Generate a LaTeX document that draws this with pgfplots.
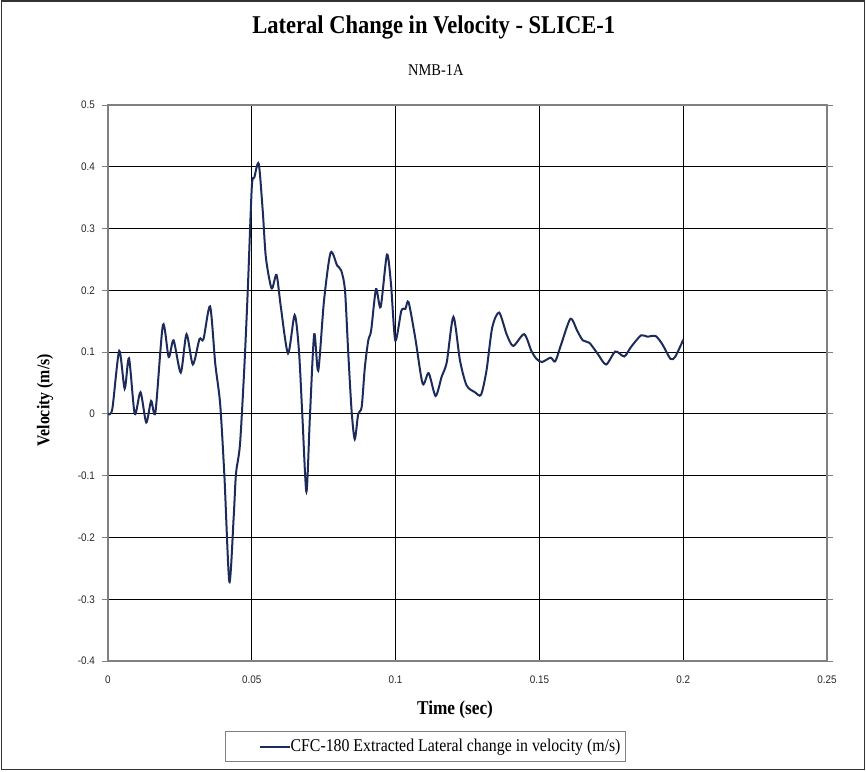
\documentclass[border=0pt]{standalone}
\usepackage{pgfplots}
\pgfplotsset{compat=1.18}
\usepackage{fontspec}
\setmainfont{Liberation Serif}[FakeStretch=0.88]
\newfontfamily\tickfont{Liberation Sans}[FakeStretch=0.9]
\definecolor{navy}{HTML}{1C2B5A}
\definecolor{axgray}{HTML}{808080}
\begin{document}
\begin{tikzpicture}
\useasboundingbox (-54pt,-55pt) rectangle (379pt,330.5pt);
\draw[line width=0.6pt, black!80] (-53.3pt,-54.3pt) rectangle (378.3pt,330pt);
\begin{axis}[
  at={(0,0)}, anchor=south west,
  scale only axis, width=359.5pt, height=278pt,
  xmin=0, xmax=0.25, ymin=-0.4, ymax=0.5,
  xtick={0,0.05,0.1,0.15,0.2,0.25},
  xticklabels={0,0.05,0.1,0.15,0.2,0.25},
  ytick={-0.4,-0.3,-0.2,-0.1,0,0.1,0.2,0.3,0.4,0.5},
  yticklabels={-0.4,-0.3,-0.2,-0.1,0,0.1,0.2,0.3,0.4,0.5},
  scaled ticks=false,
  ticklabel style={font=\tickfont\fontsize{5.5}{6}\selectfont, text=black!85},
  xticklabel style={yshift=-1pt},
  grid=major,
  major grid style={black, line width=0.45pt},
  axis line style={axgray, line width=0.8pt},
  tick align=outside,
  major tick length=3pt,
  tick style={axgray, line width=0.5pt},
  xtick style={draw=none},
  legend style={at={(0.4416,-0.154)}, anchor=center, draw=axgray, line width=0.5pt,
    font=\fontsize{9}{10}\selectfont, inner xsep=2.5pt, inner ysep=1.5pt,
    nodes={inner xsep=0pt}},
  legend image code/.code={\path (0pt,0pt); \draw[#1, line width=1pt] (14pt,0pt) -- (29pt,0pt);},
  legend cell align=left,
  clip=false,
]
\addplot[navy, line width=1pt, smooth, tension=0.45] coordinates {
(0,0) (0.0015,0.008) (0.0039,0.102) (0.0058,0.041) (0.0073,0.090) (0.0093,0.0)
(0.0113,0.035) (0.0133,-0.014) (0.015,0.021) (0.0165,0.003) (0.0191,0.144)
(0.0211,0.092) (0.0228,0.119) (0.0253,0.067) (0.0273,0.129) (0.0295,0.080)
(0.0318,0.121) (0.0332,0.121) (0.0355,0.174) (0.0373,0.081) (0.039,0.016)
(0.0405,-0.103) (0.0422,-0.272) (0.0437,-0.167) (0.0445,-0.097) (0.0459,-0.049)
(0.0474,0.075) (0.0486,0.2) (0.05,0.367) (0.0509,0.383) (0.0524,0.405)
(0.0538,0.329) (0.0549,0.253) (0.0569,0.203) (0.0586,0.225) (0.0601,0.173)
(0.0626,0.098) (0.0649,0.160) (0.0664,0.102) (0.0676,-0.005) (0.069,-0.126)
(0.0702,-0.005) (0.0717,0.129) (0.0731,0.070) (0.0751,0.183) (0.0774,0.261)
(0.0797,0.240) (0.0811,0.232) (0.0824,0.2) (0.0835,0.102) (0.0847,0.005)
(0.0858,-0.041) (0.087,0.0) (0.0882,0.011) (0.0893,0.075) (0.0905,0.119)
(0.0915,0.135) (0.0932,0.202) (0.0948,0.173) (0.097,0.258) (0.0984,0.210)
(0.0999,0.119) (0.102,0.167) (0.1034,0.170) (0.1045,0.181) (0.1068,0.124)
(0.1094,0.049) (0.1115,0.066) (0.1139,0.029) (0.116,0.060) (0.1178,0.084)
(0.1201,0.157) (0.1224,0.086) (0.1247,0.046) (0.1276,0.035) (0.1297,0.031)
(0.1316,0.070) (0.1336,0.140) (0.136,0.164) (0.1386,0.129) (0.1409,0.110)
(0.1447,0.129) (0.1472,0.102) (0.149,0.089) (0.1509,0.084) (0.1539,0.091)
(0.1555,0.085) (0.1576,0.113) (0.1608,0.154) (0.1631,0.135) (0.1651,0.119)
(0.1674,0.115) (0.1703,0.097) (0.1732,0.080) (0.1764,0.101) (0.1795,0.093)
(0.1818,0.108) (0.1853,0.127) (0.1875,0.125) (0.1904,0.126) (0.1927,0.113)
(0.1956,0.089) (0.1973,0.093) (0.2,0.12)
};
\addlegendentry{CFC-180 Extracted Lateral change in velocity (m/s)}
\node[font=\bfseries\fontsize{12.8}{14}\selectfont] at (axis description cs:0.453,1.139) {Lateral Change in Velocity - SLICE-1};
\node[font=\fontsize{8.2}{9}\selectfont] at (axis description cs:0.456,1.063) {NMB-1A};
\node[font=\bfseries\fontsize{9.8}{11}\selectfont] at (axis description cs:0.4826,-0.088) {Time (sec)};
\node[font=\bfseries\fontsize{9}{10}\selectfont, rotate=90] at (axis description cs:-0.0876,0.469) {Velocity (m/s)};
\end{axis}
\end{tikzpicture}
\end{document}
